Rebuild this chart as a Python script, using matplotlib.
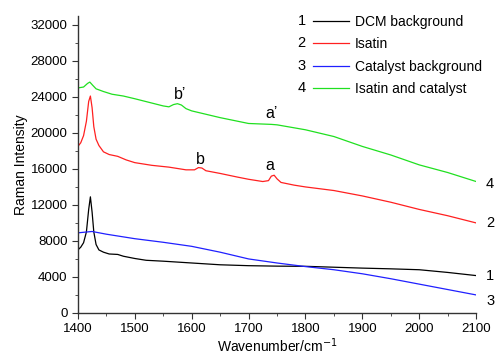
import matplotlib
matplotlib.use("Agg")
import matplotlib.pyplot as plt

plt.rcParams['font.family'] = ['Liberation Sans', 'DejaVu Sans']

dcm_x = [1400, 1405, 1410, 1415, 1419, 1422, 1425, 1428, 1432, 1437, 1445, 1455, 1470, 1480, 1500, 1520, 1550, 1600, 1650, 1700, 1750, 1800, 1850, 1900, 1950, 2000, 2050, 2100]
dcm_y = [7000, 7300, 7800, 9000, 11500, 12900, 11200, 9000, 7600, 7000, 6750, 6550, 6500, 6300, 6050, 5850, 5750, 5550, 5350, 5250, 5200, 5180, 5080, 4980, 4900, 4800, 4500, 4150]

isa_x = [1400, 1405, 1410, 1415, 1419, 1422, 1425, 1428, 1432, 1437, 1445, 1455, 1470, 1485, 1500, 1530, 1560, 1590, 1605, 1612, 1618, 1625, 1650, 1680, 1700, 1725, 1735, 1740, 1745, 1750, 1757, 1780, 1800, 1850, 1900, 1950, 2000, 2050, 2100]
isa_y = [18500, 18900, 19700, 21300, 23500, 24100, 22800, 20700, 19300, 18600, 17900, 17600, 17400, 17000, 16700, 16400, 16200, 15900, 15900, 16150, 16100, 15800, 15500, 15100, 14850, 14600, 14700, 15200, 15300, 14900, 14500, 14200, 14000, 13600, 13000, 12300, 11500, 10800, 10000]

cat_x = [1400, 1425, 1450, 1500, 1550, 1600, 1650, 1700, 1750, 1800, 1850, 1900, 1950, 2000, 2050, 2100]
cat_y = [8900, 9050, 8750, 8250, 7850, 7400, 6750, 6000, 5550, 5150, 4800, 4350, 3800, 3200, 2600, 2000]

mix_x = [1400, 1410, 1417, 1421, 1426, 1432, 1445, 1460, 1480, 1500, 1525, 1550, 1560, 1568, 1575, 1582, 1590, 1600, 1650, 1700, 1740, 1750, 1800, 1850, 1900, 1950, 2000, 2050, 2100]
mix_y = [25000, 25100, 25500, 25650, 25300, 24900, 24600, 24300, 24100, 23800, 23400, 23000, 22900, 23150, 23250, 23100, 22700, 22450, 21700, 21050, 20950, 20900, 20350, 19600, 18500, 17550, 16450, 15600, 14600]

series_names = ["DCM background", "Isatin", "Catalyst background", "Isatin and catalyst"]
series_nums = ["1", "2", "3", "4"]
colors = ["black", "#ff2020", "#2020ff", "#20e020"]

peak_labels = ["b\u2019", "b", "a\u2019", "a"]
peak_pos = [(1579, 23800), (1616, 16550), (1741, 21700), (1737, 15900)]

fig = plt.figure(figsize=(4.96, 3.54), dpi=100)
ax = fig.add_axes([0.157, 0.116, 0.803, 0.839])

xs = [dcm_x, isa_x, cat_x, mix_x]
ys = [dcm_y, isa_y, cat_y, mix_y]
handles = []
for x, y, c in zip(xs, ys, colors):
    h, = ax.plot(x, y, color=c, lw=0.9)
    handles.append(h)

ax.set_xlim(1400, 2100)
ax.set_ylim(0, 33000)
ax.set_xticks(range(1400, 2101, 100))
ax.set_xticks(range(1450, 2100, 100), minor=True)
ax.set_yticks(range(0, 32001, 4000))
ax.set_yticks(range(2000, 33000, 4000), minor=True)
ax.spines['top'].set_visible(False)
ax.spines['right'].set_visible(False)
for s in ['left', 'bottom']:
    ax.spines[s].set_color('#333333')
    ax.spines[s].set_linewidth(1.0)
ax.tick_params(axis='both', which='major', direction='out', length=4, labelsize=9.5, colors='#333333', labelcolor='black')
ax.tick_params(axis='both', which='minor', direction='out', length=2.5, colors='#333333')
ax.set_xlabel("Wavenumber/cm$^{-1}$", fontsize=10, labelpad=1)
ax.set_ylabel("Raman Intensity", fontsize=10, labelpad=2)

for lab, (px, py) in zip(peak_labels, peak_pos):
    ax.text(px, py, lab, fontsize=11.5, ha='center', va='baseline')

# end-of-line numbers
end_vals = [dcm_y[-1], isa_y[-1], cat_y[-1], mix_y[-1]]
end_offsets = [0, 0, -700, -300]
for n, v, o in zip(series_nums, end_vals, end_offsets):
    ax.text(1.025, v + o, n, transform=ax.get_yaxis_transform(), fontsize=10.5, va='center', ha='left', clip_on=False)

leg = ax.legend(handles, series_names, loc='upper left', bbox_to_anchor=(0.572, 1.027), frameon=False,
                fontsize=10, handlelength=2.6, handletextpad=0.45, labelspacing=0.6, borderpad=0)
fig.canvas.draw()
renderer = fig.canvas.get_renderer()
for n, line in zip(series_nums, leg.get_lines()):
    bb = line.get_window_extent(renderer)
    x0, yc = bb.x0, (bb.y0 + bb.y1) / 2
    fig.text((x0 - 7) / fig.dpi / 4.96, yc / fig.dpi / 3.54, n, fontsize=10.5, ha='right', va='center')

fig.savefig("out.png", dpi=100)
